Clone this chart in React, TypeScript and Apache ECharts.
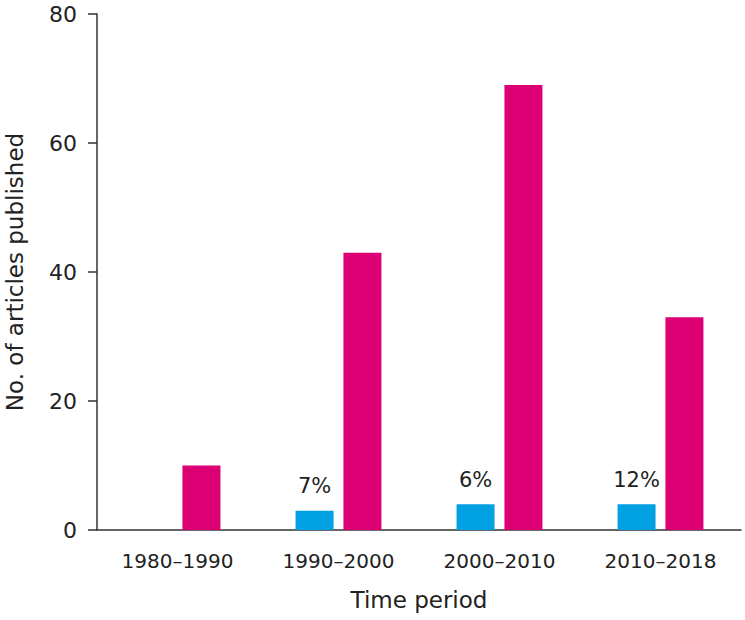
import React, { useEffect, useRef } from "react";
import * as echarts from "echarts";

const categories = ["1980–1990", "1990–2000", "2000–2010", "2010–2018"];
const blueValues: (number | null)[] = [null, 3, 4, 4];
const pinkValues = [10, 43, 69, 33];
const blueLabels = ["", "7%", "6%", "12%"];
const yTicks = { min: 0, max: 80, interval: 20 };

const FONT = "'DejaVu Sans', sans-serif";

export default function App() {
  const ref = useRef<HTMLDivElement>(null);
  useEffect(() => {
    if (!ref.current) return;
    const chart = echarts.init(ref.current, undefined, { renderer: "svg" });
    chart.setOption({
      animation: false,
      grid: { left: 97, right: 4, top: 14, bottom: 90, containLabel: false, outerBoundsMode: "none" },
      xAxis: {
        type: "category",
        data: categories,
        name: "Time period",
        nameLocation: "middle",
        nameGap: 58,
        nameTextStyle: { fontSize: 23, color: "#222", fontFamily: FONT },
        axisLine: { lineStyle: { color: "#333", width: 1.5 } },
        axisTick: { alignWithLabel: true, length: 9, lineStyle: { color: "#333", width: 1.5 } },
        axisLabel: { fontSize: 20, color: "#222", fontFamily: FONT, margin: 21 },
      },
      yAxis: {
        type: "value",
        min: yTicks.min,
        max: yTicks.max,
        interval: yTicks.interval,
        name: "No. of articles published",
        nameLocation: "middle",
        nameRotate: 90,
        nameGap: 71,
        nameTextStyle: { fontSize: 23, color: "#222", fontFamily: FONT },
        axisLine: { show: true, lineStyle: { color: "#333", width: 1.5 } },
        axisTick: { show: true, length: 9, lineStyle: { color: "#333", width: 1.5 } },
        axisLabel: { fontSize: 22, color: "#222", fontFamily: FONT, margin: 20, lineHeight: 20 },
        splitLine: { show: false },
      },
      series: [
        {
          type: "bar",
          data: blueValues,
          barWidth: 38,
          barGap: "26%",
          itemStyle: { color: "#00A0E3" },
          label: {
            show: true,
            position: "top",
            distance: 14,
            fontSize: 21,
            color: "#222",
            fontFamily: FONT,
            formatter: (p: any) => blueLabels[p.dataIndex],
          },
        },
        {
          type: "bar",
          data: pinkValues,
          barWidth: 38,
          barGap: "26%",
          itemStyle: { color: "#DC0074" },
        },
      ],
    });
    return () => chart.dispose();
  }, []);
  return <div ref={ref} style={{ width: 745, height: 620, position: "absolute", left: 0, top: 0 }} />;
}
